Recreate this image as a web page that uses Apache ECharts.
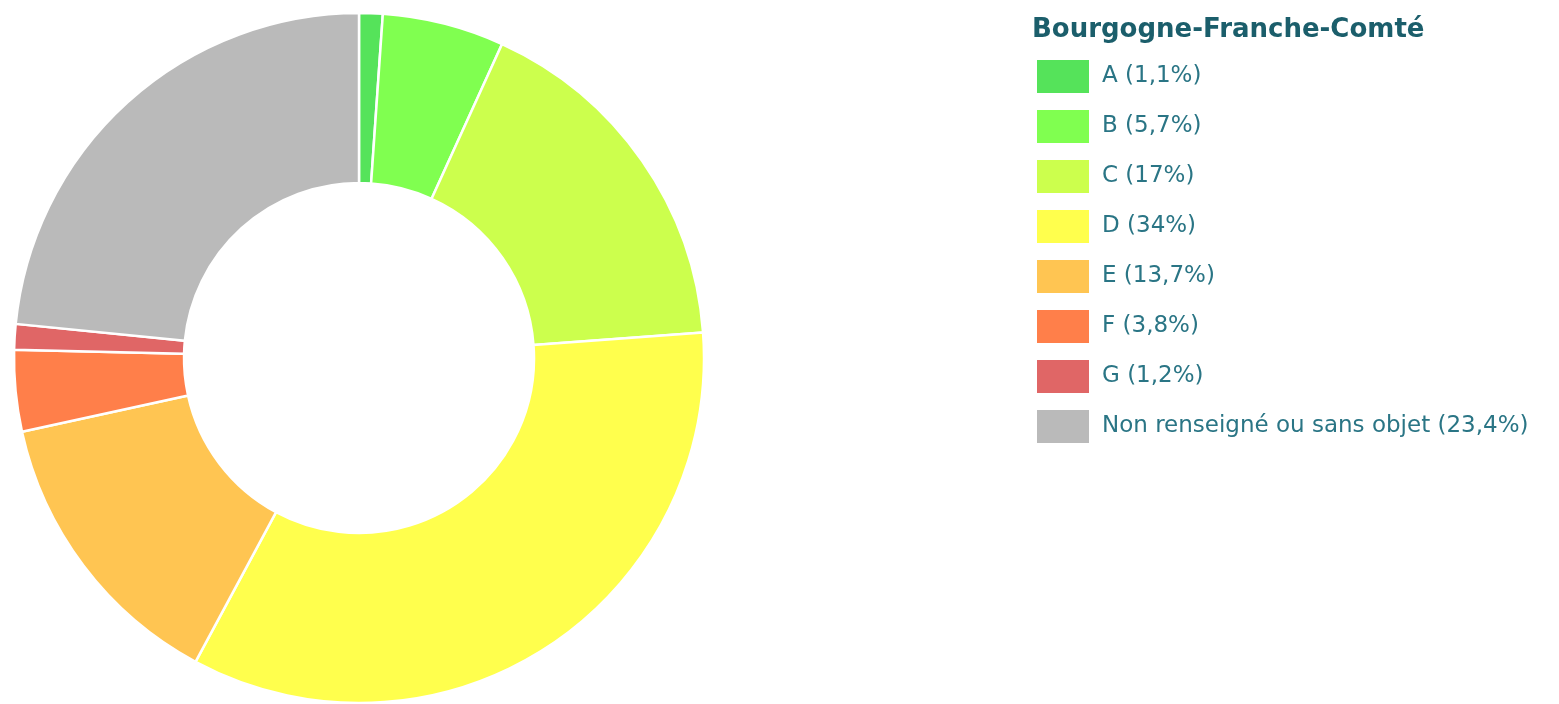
<!DOCTYPE html>
<html>
<head>
<meta charset="utf-8">
<script src="https://cdn.jsdelivr.net/npm/echarts@6/dist/echarts.min.js"></script>
<style>
  html, body { margin: 0; padding: 0; background: #fff; }
  #main { width: 1559px; height: 704px; }
</style>
</head>
<body>
<div id="main"></div>
<script>
var regionTitle = "Bourgogne-Franche-Comté";
var classes = ["A", "B", "C", "D", "E", "F", "G", "Non renseigné ou sans objet"];
var shares = [1.1, 5.7, 17, 34, 13.7, 3.8, 1.2, 23.4];
var shareLabels = ["1,1", "5,7", "17", "34", "13,7", "3,8", "1,2", "23,4"];
var colors = ["#55e35a", "#80ff50", "#ccff4d", "#ffff4d", "#ffc552", "#ff7f4a", "#e06666", "#bababa"];

var chartDom = document.getElementById("main");
var myChart = echarts.init(chartDom);

var pieData = classes.map(function (c, i) {
  return {
    name: c + " (" + shareLabels[i] + "%)",
    value: shares[i],
    itemStyle: { color: colors[i] }
  };
});

var option = {
  animation: false,
  title: {
    text: regionTitle,
    left: 1027,
    top: 12,
    textStyle: {
      fontFamily: "DejaVu Sans",
      fontSize: 26,
      fontWeight: "bold",
      color: "#1b5e6b"
    }
  },
  legend: {
    orient: "vertical",
    left: 1032,
    top: 55,
    icon: "rect",
    itemWidth: 52,
    itemHeight: 33,
    itemGap: 17,
    selectedMode: false,
    itemStyle: { borderWidth: 0 },
    textStyle: {
      fontFamily: "DejaVu Sans",
      fontSize: 23,
      color: "#2a7585",
      padding: [0, 0, 0, 8]
    }
  },
  series: [
    {
      name: regionTitle,
      type: "pie",
      center: [359, 358],
      radius: [175, 345],
      startAngle: 90,
      clockwise: true,
      label: { show: false },
      labelLine: { show: false },
      itemStyle: {
        borderColor: "#ffffff",
        borderWidth: 2.5
      },
      emphasis: { disabled: true },
      data: pieData
    }
  ]
};

myChart.setOption(option);
</script>
</body>
</html>
